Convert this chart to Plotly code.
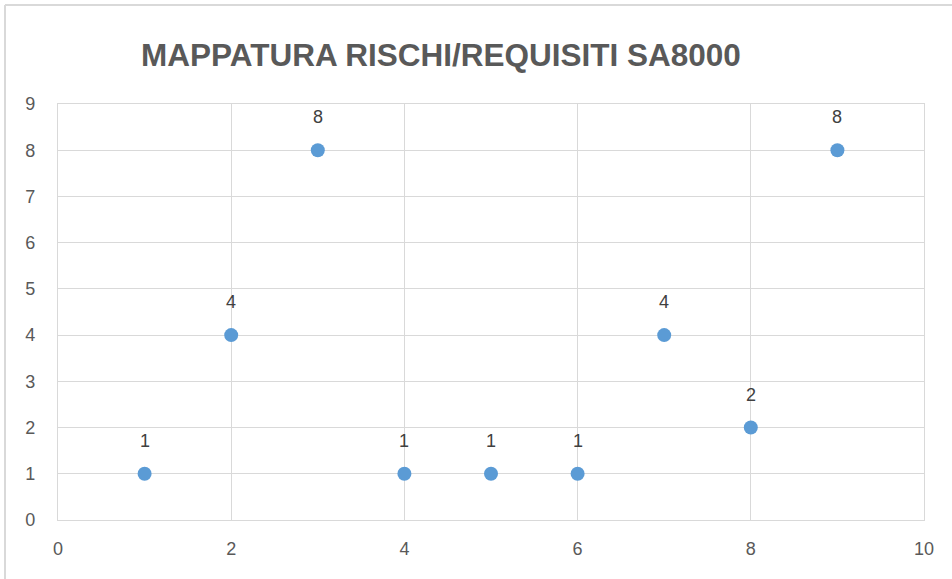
import plotly.graph_objects as go

x_vals = [1, 2, 3, 4, 5, 6, 7, 8, 9]
y_vals = [1, 4, 8, 1, 1, 1, 4, 2, 8]
labels = [str(v) for v in y_vals]
x_ticks = [0, 2, 4, 6, 8, 10]
y_ticks = list(range(0, 10))
title = "MAPPATURA RISCHI/REQUISITI SA8000"

W, H = 952, 579
L, R, T, B = 58, 28, 104, 59
pw, ph = W - L - R, H - T - B
FONT = "Liberation Sans, Arial, sans-serif"

def px2x(p):
    return (p - L) / pw

def py2y(p):
    return (H - B - p) / ph

fig = go.Figure()
fig.add_trace(go.Scatter(
    x=x_vals, y=y_vals, mode="markers",
    marker=dict(size=14, color="#5B9BD5"),
    cliponaxis=False, hoverinfo="skip", showlegend=False,
))

for xv, yv, lab in zip(x_vals, y_vals, labels):
    fig.add_annotation(x=xv, y=yv, text=lab, showarrow=False, yshift=33,
                       font=dict(family=FONT, size=18, color="#404040"))

axis_common = dict(
    showgrid=True, gridcolor="#D9D9D9", gridwidth=1.3,
    showline=True, linecolor="#D9D9D9", linewidth=1.3, mirror=True,
    zeroline=False, ticks="", automargin=False,
    tickfont=dict(family=FONT, size=18, color="#595959"),
    fixedrange=True,
)
fig.update_xaxes(range=[0, 10], tickvals=x_ticks, ticklabelstandoff=12, **axis_common)
fig.update_yaxes(range=[0, 9], tickvals=y_ticks, ticklabelstandoff=18, **axis_common)

border = dict(color="#D9D9D9", width=2)
fig.add_shape(type="line", xref="paper", yref="paper",
              x0=px2x(5), x1=px2x(W), y0=py2y(5), y1=py2y(5), line=border, layer="below")
fig.add_shape(type="line", xref="paper", yref="paper",
              x0=px2x(5), x1=px2x(5), y0=py2y(5), y1=py2y(H), line=border, layer="below")

fig.update_layout(
    width=W, height=H,
    margin=dict(l=L, r=R, t=T, b=B),
    paper_bgcolor="white", plot_bgcolor="white",
    title=dict(text="<b>" + title + "</b>", x=441 / W, xanchor="center",
               y=1 - 55 / H, yanchor="middle",
               font=dict(family=FONT, size=31.5, color="#595959")),
)

fig.write_html("out.html", config={"displayModeBar": False},
               post_script="document.body.style.margin='0';document.body.style.overflow='hidden';")
